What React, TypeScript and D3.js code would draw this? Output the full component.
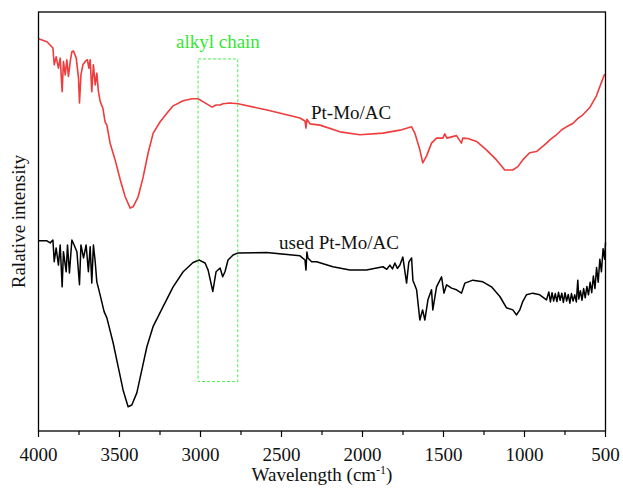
import React from "react";
import { scaleLinear, line } from "d3";

// FTIR spectra, wavenumber (cm-1) vs relative intensity (a.u.)
const freshSpectrum: [number, number][] = [
  [4000, 93.6], [3948, 92.9], [3911, 91.4], [3903, 87.4], [3891, 89.3], [3877, 86.6],
  [3866, 89.0], [3854, 81.0], [3846, 88.2], [3835, 85.0], [3825, 88.6], [3815, 84.6],
  [3804, 88.2], [3794, 90.5], [3784, 90.7], [3767, 89.0], [3753, 84.2], [3747, 78.3],
  [3738, 85.0], [3726, 87.4], [3712, 88.2], [3698, 88.6], [3689, 86.6], [3681, 88.6],
  [3671, 81.0], [3661, 87.4], [3650, 82.6], [3640, 85.4], [3630, 81.0], [3619, 78.6],
  [3603, 77.1], [3589, 73.8], [3578, 73.0], [3558, 68.7], [3527, 64.7], [3495, 59.9],
  [3465, 55.9], [3434, 53.2], [3416, 53.5], [3385, 55.9], [3354, 60.6], [3323, 66.4],
  [3292, 71.1], [3249, 73.8], [3206, 75.9], [3169, 77.6], [3107, 78.8], [3052, 79.3],
  [3015, 79.3], [2972, 78.3], [2928, 77.3], [2904, 77.8], [2879, 77.8], [2861, 78.1],
  [2818, 78.3], [2768, 78.1], [2589, 76.6], [2386, 74.7], [2355, 74.0], [2349, 72.3],
  [2343, 74.4], [2324, 73.3], [2263, 73.0], [2139, 71.4], [2016, 70.7], [1874, 71.1],
  [1769, 71.8], [1697, 72.6], [1677, 71.1], [1646, 67.1], [1628, 64.0], [1605, 65.6],
  [1574, 68.7], [1543, 69.9], [1504, 69.9], [1492, 70.9], [1479, 69.9], [1420, 70.5],
  [1389, 68.7], [1381, 69.9], [1350, 69.8], [1296, 69.1], [1235, 67.1], [1173, 64.7],
  [1122, 62.3], [1072, 62.3], [1041, 63.1], [1011, 64.7], [968, 66.4], [926, 66.7],
  [864, 68.7], [840, 69.6], [803, 70.7], [770, 71.9], [741, 72.6], [702, 73.4],
  [670, 74.6], [641, 75.4], [597, 77.2], [556, 80.0], [525, 83.2], [505, 85.2],
];

const usedSpectrum: [number, number][] = [
  [4000, 45.4], [3948, 45.4], [3928, 44.9], [3911, 45.6], [3903, 40.4], [3891, 43.7],
  [3877, 39.6], [3866, 44.4], [3854, 34.4], [3846, 42.8], [3829, 38.0], [3821, 44.4],
  [3809, 37.7], [3794, 45.6], [3780, 44.4], [3763, 42.8], [3747, 34.9], [3738, 44.4],
  [3722, 41.3], [3706, 44.4], [3692, 38.0], [3681, 44.0], [3671, 35.3], [3661, 44.4],
  [3650, 40.4], [3640, 35.6], [3630, 34.1], [3615, 31.7], [3595, 28.5], [3578, 27.0],
  [3539, 21.0], [3508, 15.3], [3478, 9.8], [3447, 5.8], [3424, 6.2], [3393, 9.1],
  [3362, 14.6], [3331, 20.1], [3293, 24.9], [3231, 29.7], [3169, 34.4], [3107, 38.0],
  [3046, 40.2], [3007, 40.8], [2972, 40.1], [2953, 38.4], [2924, 33.3], [2904, 38.0],
  [2879, 38.9], [2863, 36.8], [2849, 38.0], [2830, 40.8], [2799, 42.0], [2768, 42.5],
  [2591, 42.6], [2386, 41.8], [2355, 40.8], [2349, 38.4], [2343, 42.7], [2337, 41.3],
  [2314, 40.4], [2283, 40.4], [2183, 39.2], [2078, 38.4], [1975, 38.4], [1874, 39.2],
  [1850, 38.6], [1831, 39.6], [1815, 38.7], [1800, 40.1], [1785, 38.8], [1769, 39.6],
  [1751, 41.5], [1740, 38.5], [1728, 35.3], [1714, 40.3], [1697, 41.3], [1689, 36.0],
  [1666, 33.7], [1646, 26.5], [1629, 28.9], [1615, 26.5], [1596, 31.3], [1574, 33.7],
  [1566, 28.9], [1543, 34.4], [1512, 36.8], [1497, 32.9], [1481, 34.9], [1450, 34.1],
  [1420, 33.7], [1389, 32.9], [1368, 35.3], [1319, 36.0], [1257, 35.6], [1204, 34.4],
  [1152, 32.1], [1111, 29.4], [1072, 28.9], [1049, 27.7], [1029, 28.9], [1011, 30.9],
  [988, 32.5], [949, 32.9], [906, 32.5], [864, 31.3], [850, 33.2], [840, 30.8],
  [830, 33.0], [820, 31.0], [810, 32.8], [800, 30.9], [790, 33.1], [780, 31.2],
  [770, 32.9], [760, 30.7], [750, 33.0], [740, 31.0], [730, 32.6], [720, 30.5],
  [710, 32.8], [700, 31.0], [690, 32.5], [680, 30.8], [671, 36.0], [665, 31.5],
  [655, 33.5], [645, 31.2], [635, 34.0], [625, 31.8], [615, 34.5], [605, 32.5],
  [595, 35.5], [585, 33.0], [575, 37.0], [565, 34.0], [555, 39.0], [545, 35.5],
  [535, 41.0], [525, 38.0], [515, 43.5], [505, 41.0], [500, 45.0],
];

const majorTicks = [4000, 3500, 3000, 2500, 2000, 1500, 1000, 500];
const minorTicks = [3750, 3250, 2750, 2250, 1750, 1250, 750];

// highlighted region [wavenumber from, to, intensity low, high]
const alkylBox = { from: 3015, to: 2770, low: 11.8, high: 88.8 };

const labels = [
  { text: "Pt-Mo/AC", w: 2318, y: 74.5 },
  { text: "used Pt-Mo/AC", w: 2515, y: 43.4 },
];

const width = 623;
const height = 491;
const margin = { top: 12, right: 17.5, bottom: 60, left: 38.5 };
const font = "'Liberation Serif', 'Times New Roman', serif";

export default function App() {
  const x = scaleLinear()
    .domain([4000, 500])
    .range([margin.left, width - margin.right]);
  const y = scaleLinear()
    .domain([0, 100])
    .range([height - margin.bottom, margin.top]);

  const path = line<[number, number]>()
    .x((d) => x(d[0]))
    .y((d) => y(d[1]));

  const x0 = margin.left;
  const x1 = width - margin.right;
  const yb = height - margin.bottom;

  return (
    <svg
      width={width}
      height={height}
      style={{ position: "absolute", left: 0, top: 0, background: "#fff" }}
      fontFamily={font}
    >
      <path d={path(freshSpectrum) ?? ""} fill="none" stroke="#ef3c3c" strokeWidth={1.6} strokeLinejoin="round" />
      <path d={path(usedSpectrum) ?? ""} fill="none" stroke="#000" strokeWidth={1.5} strokeLinejoin="round" />

      <rect
        x={x(alkylBox.from)}
        y={y(alkylBox.high)}
        width={x(alkylBox.to) - x(alkylBox.from)}
        height={y(alkylBox.low) - y(alkylBox.high)}
        fill="none"
        stroke="#4dee4d"
        strokeWidth={1}
        strokeDasharray="3,2"
      />
      <text
        x={(x(alkylBox.from) + x(alkylBox.to)) / 2}
        y={48}
        textAnchor="middle"
        fontSize={19}
        fill="#33e833"
      >
        alkyl chain
      </text>

      {labels.map((l) => (
        <text key={l.text} x={x(l.w)} y={y(l.y)} fontSize={19} fill="#111">
          {l.text}
        </text>
      ))}

      {/* frame */}
      <rect x={x0} y={margin.top} width={x1 - x0} height={yb - margin.top} fill="none" stroke="#000" strokeWidth={1.3} />

      {majorTicks.map((t) => (
        <g key={t}>
          <line x1={x(t)} x2={x(t)} y1={yb} y2={yb + 6} stroke="#000" strokeWidth={1.2} />
          <text x={x(t)} y={461} textAnchor="middle" fontSize={19} fill="#111">
            {t}
          </text>
        </g>
      ))}
      {minorTicks.map((t) => (
        <line key={t} x1={x(t)} x2={x(t)} y1={yb} y2={yb + 4} stroke="#000" strokeWidth={1.2} />
      ))}

      <text x={(x0 + x1) / 2} y={481} textAnchor="middle" fontSize={19} fill="#111">
        Wavelength (cm
        <tspan fontSize={12} dy={-7}>-1</tspan>
        <tspan dy={7}>)</tspan>
      </text>
      <text
        transform={`translate(25,${(margin.top + yb) / 2}) rotate(-90)`}
        textAnchor="middle"
        fontSize={19}
        fill="#111"
      >
        Ralative intensity
      </text>
    </svg>
  );
}
